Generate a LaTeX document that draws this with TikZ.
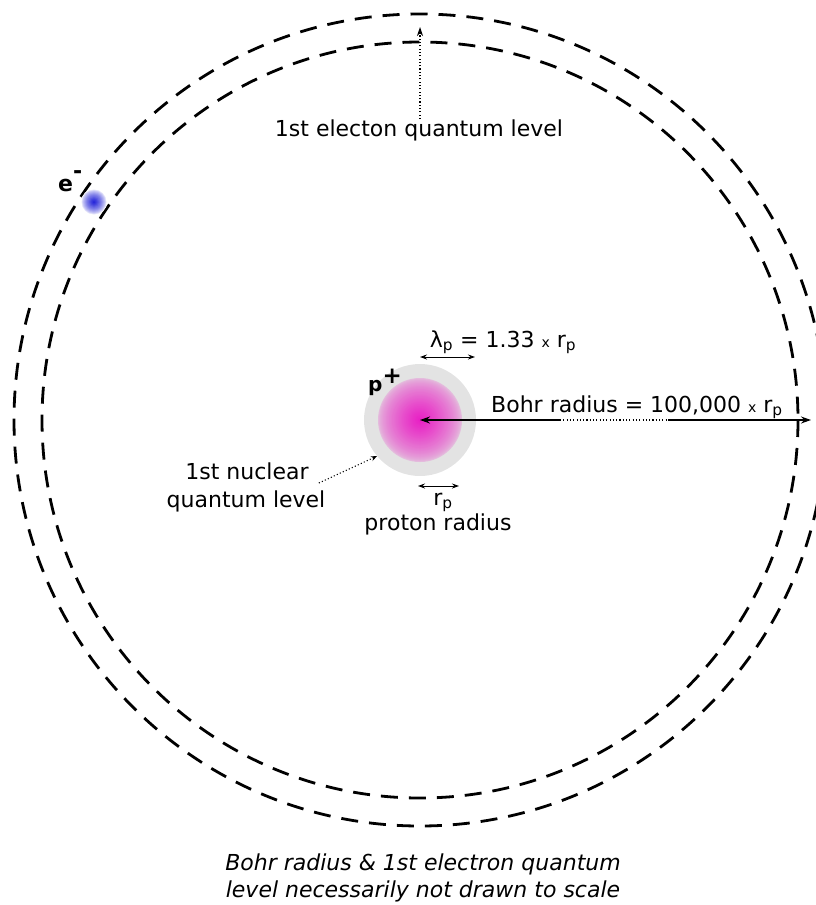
\documentclass[tikz,border=0pt]{standalone}
\usepackage{fontspec}
\setmainfont{DejaVu Sans}
\usetikzlibrary{arrows.meta,positioning}
\definecolor{protonpink}{HTML}{E81CC4}
\definecolor{haze}{HTML}{E3E3E3}
\definecolor{eblue}{HTML}{1C1CD8}
\newcommand{\smallx}{{\fontsize{14}{14}\selectfont x}}

\begin{document}
\begin{tikzpicture}[x=1pt,y=-1pt,
  level/.style={line width=2.8pt,dash pattern=on 17pt off 11pt},
  txt/.style={font=\fontsize{22}{28}\selectfont,inner sep=0pt},
  dim/.style={{Stealth[length=7pt,width=5pt]}-{Stealth[length=7pt,width=5pt]},line width=1pt},
  ptr/.style={-{Stealth[length=10pt,width=7pt]},line width=1.3pt},
  dots/.style={line width=1.1pt,dash pattern=on 1.1pt off 2.2pt}]
  \useasboundingbox (0,0) rectangle (816,905);
  \clip (0,0) rectangle (816,905);

  % quantum levels
  \coordinate (nuc) at (420,420);
  \draw[level] (nuc) circle[radius=406];
  \draw[level] (nuc) circle[radius=378];

  % proton
  \node[circle,fill=haze,minimum size=112pt,inner sep=0pt] (haze) at (nuc) {};
  \foreach \r in {42,41,...,1} {
    \pgfmathtruncatemacro\mix{20+80*(1-\r/42)^0.7}
    \fill[protonpink!\mix!haze] (nuc) circle[radius=\r];
  }
  \node[txt,font=\fontsize{20}{20}\selectfont\bfseries,anchor=base west] (pplus) at (368,391)
    {p\raisebox{8pt}{\fontsize{23}{23}\selectfont+}};

  % electron
  \coordinate (elec) at (94,202);
  \foreach \r in {13,12.5,...,0.5} {
    \pgfmathtruncatemacro\mix{100*(1-\r/13)^0.7}
    \fill[eblue!\mix!white] (elec) circle[radius=\r];
  }
  \node[txt,font=\fontsize{22}{22}\selectfont\bfseries,anchor=base west] (eminus) at (58,191)
    {e\raisebox{13pt}{-}};

  % lambda and r_p
  \coordinate (lamL) at (420,357);
  \coordinate (lamR) at (475,357);
  \draw[dim] (lamL) -- (lamR);
  \node[txt,anchor=base] (lam) at (503,347) {λ\textsubscript{p} = 1.33 \smallx{} r\textsubscript{p}};

  \coordinate (rpL) at (418,486);
  \coordinate (rpR) at (459,486);
  \draw[dim] (rpL) -- (rpR);
  \node[txt,anchor=base] (rp) at (443,505) {r\textsubscript{p}};
  \node[txt,anchor=base] (prad) at (438,530) {proton radius};

  % Bohr radius
  \coordinate (bohrA) at (560,420);
  \coordinate (bohrB) at (668,420);
  \coordinate (bohrend) at (811,420);
  \draw[ptr] (bohrA) -- (nuc);
  \draw[dots] (bohrA) -- (bohrB);
  \draw[ptr] (bohrB) -- (bohrend);
  \node[txt,anchor=base] (bohr) at (637,412) {Bohr radius = 100,000 \smallx{} r\textsubscript{p}};

  % electron level label
  \node[txt,anchor=base] (elevel) at (419,136) {1st electon quantum level};
  \coordinate (eltip) at (420,27);
  \draw[dots,-{Stealth[length=9pt,width=6pt]}] (elevel.north -| eltip) -- (eltip);

  % nuclear level label
  \node[txt,anchor=base] (nlevel) at (247,479) {1st nuclear};
  \node[txt,anchor=base] (nlevelb) at (246,507) {quantum level};
  \draw[dots,-{Stealth[length=6pt,width=5pt]}] ([xshift=10pt,yshift=-4pt]nlevel.base east) -- (haze.220);

  % caption
  \node[txt,font=\fontsize{22}{28}\selectfont\itshape,anchor=base] (cap) at (423,870) {Bohr radius \& 1st electron quantum};
  \node[txt,font=\fontsize{22}{28}\selectfont\itshape,anchor=base] (capb) at (423,897) {level necessarily not drawn to scale};
\end{tikzpicture}
\end{document}
